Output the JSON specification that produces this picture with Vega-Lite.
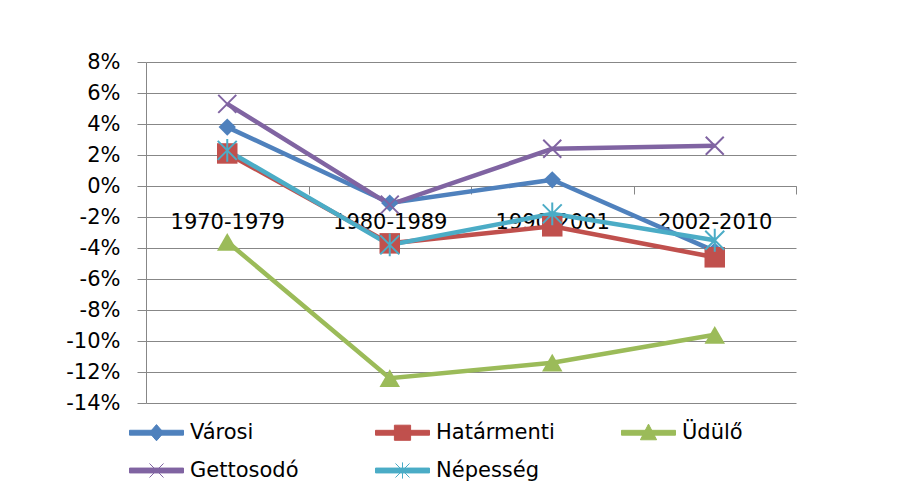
{
  "$schema": "https://vega.github.io/schema/vega-lite/v6.json",
  "width": 650,
  "height": 341,
  "autosize": {"type": "none"},
  "padding": {"left": 146, "top": 62, "right": 118, "bottom": 101},
  "background": "white",
  "config": {"font": "DejaVu Sans", "view": {"stroke": null}},
  "data": {"values": [
    {"period": "1970-1979", "series": "Városi", "value": 0.038},
    {"period": "1980-1989", "series": "Városi", "value": -0.011},
    {"period": "1990-2001", "series": "Városi", "value": 0.004},
    {"period": "2002-2010", "series": "Városi", "value": -0.042},
    {"period": "1970-1979", "series": "Határmenti", "value": 0.021},
    {"period": "1980-1989", "series": "Határmenti", "value": -0.037},
    {"period": "1990-2001", "series": "Határmenti", "value": -0.026},
    {"period": "2002-2010", "series": "Határmenti", "value": -0.046},
    {"period": "1970-1979", "series": "Üdülő", "value": -0.036},
    {"period": "1980-1989", "series": "Üdülő", "value": -0.124},
    {"period": "1990-2001", "series": "Üdülő", "value": -0.114},
    {"period": "2002-2010", "series": "Üdülő", "value": -0.096},
    {"period": "1970-1979", "series": "Gettosodó", "value": 0.053},
    {"period": "1980-1989", "series": "Gettosodó", "value": -0.012},
    {"period": "1990-2001", "series": "Gettosodó", "value": 0.024},
    {"period": "2002-2010", "series": "Gettosodó", "value": 0.026},
    {"period": "1970-1979", "series": "Népesség", "value": 0.023},
    {"period": "1980-1989", "series": "Népesség", "value": -0.038},
    {"period": "1990-2001", "series": "Népesség", "value": -0.018},
    {"period": "2002-2010", "series": "Népesség", "value": -0.035}
  ]},
  "encoding": {
    "x": {
      "field": "period", "type": "ordinal",
      "scale": {"type": "band", "paddingInner": 0, "paddingOuter": 0, "domain": ["1970-1979", "1980-1989", "1990-2001", "2002-2010"]},
      "axis": {
        "title": null, "orient": "bottom", "offset": -217, "labelAngle": 0,
        "domainColor": "#878787", "domainWidth": 1,
        "tickColor": "#878787", "tickSize": 8, "tickBand": "extent",
        "labelFontSize": 21, "labelColor": "black", "labelPadding": 17,
        "labelFont": "DejaVu Sans", "grid": false, "zindex": 0
      }
    },
    "y": {
      "field": "value", "type": "quantitative",
      "scale": {"domain": [-0.14, 0.08], "nice": false, "zero": false},
      "axis": {
        "title": null,
        "values": [-0.14, -0.12, -0.1, -0.08, -0.06, -0.04, -0.02, 0, 0.02, 0.04, 0.06, 0.08],
        "labelExpr": "replace(format(datum.value, '.0%'), '\u2212', '-')",
        "domainColor": "#878787", "tickColor": "#878787", "tickSize": 9,
        "grid": true, "gridColor": "#878787", "gridWidth": 1,
        "labelFontSize": 21, "labelColor": "black", "labelPadding": 17,
        "labelFont": "DejaVu Sans", "zindex": 0
      }
    }
  },
  "layer": [
    {
      "mark": {"type": "line", "strokeWidth": 4.5},
      "encoding": {
        "color": {
          "field": "series", "type": "nominal",
          "scale": {"domain": ["Városi", "Határmenti", "Üdülő", "Gettosodó", "Népesség"],
                    "range": ["#4F81BD", "#C0504D", "#9BBB59", "#8064A2", "#4BACC6"]},
          "legend": {
            "title": null, "orient": "none", "legendX": -17, "legendY": 343,
            "direction": "horizontal",
            "columns": 3, "gridAlign": "all", "columnPadding": 64, "rowPadding": -19,
            "symbolSize": 2916, "labelOffset": 6, "labelFontSize": 21, "labelColor": "black",
            "labelFont": "DejaVu Sans", "padding": 0, "symbolStrokeWidth": 1,
            "encode": {
              "symbols": {
                "update": {
                  "shape": {"signal": "datum.value === 'Városi' ? 'M-1,-0.09L1,-0.09L1,0.09L-1,0.09Z M0,-0.3L0.26,0L0,0.3L-0.26,0Z' : datum.value === 'Határmenti' ? 'M-1,-0.09L1,-0.09L1,0.09L-1,0.09Z M-0.3,-0.28L0.3,-0.28L0.3,0.28L-0.3,0.28Z' : datum.value === 'Üdülő' ? 'M-1,-0.09L1,-0.09L1,0.09L-1,0.09Z M0,-0.32L0.3,0.26L-0.3,0.26Z' : datum.value === 'Gettosodó' ? 'M-1,-0.09L1,-0.09L1,0.09L-1,0.09Z M-0.26,-0.26L0.26,0.26M-0.26,0.26L0.26,-0.26' : 'M-1,-0.09L1,-0.09L1,0.09L-1,0.09Z M-0.26,-0.26L0.26,0.26M-0.26,0.26L0.26,-0.26M0,-0.3L0,0.3'"},
                  "fill": {"scale": "color", "field": "value"},
                  "stroke": {"scale": "color", "field": "value"},
                  "strokeWidth": {"value": 1},
                  "opacity": {"value": 1}
                }
              }
            }
          }
        }
      }
    },
    {
      "transform": [{"filter": "datum.series === 'Városi'"}],
      "mark": {"type": "point", "shape": "diamond", "filled": true, "size": 300, "color": "#4F81BD", "opacity": 1}
    },
    {
      "transform": [{"filter": "datum.series === 'Határmenti'"}],
      "mark": {"type": "point", "shape": "square", "filled": true, "size": 420, "color": "#C0504D", "opacity": 1}
    },
    {
      "transform": [{"filter": "datum.series === 'Üdülő'"}],
      "mark": {"type": "point", "shape": "triangle-up", "filled": true, "size": 420, "color": "#9BBB59", "opacity": 1}
    },
    {
      "transform": [{"filter": "datum.series === 'Gettosodó'"}],
      "mark": {"type": "point", "shape": "M-1,-1L1,1M-1,1L1,-1", "filled": false, "size": 324, "strokeWidth": 2, "color": "#8064A2", "opacity": 1}
    },
    {
      "transform": [{"filter": "datum.series === 'Népesség'"}],
      "mark": {"type": "point", "shape": "M-1,-1L1,1M-1,1L1,-1M0,-1.2L0,1.2", "filled": false, "size": 360, "strokeWidth": 2, "color": "#4BACC6", "opacity": 1}
    }
  ]
}
